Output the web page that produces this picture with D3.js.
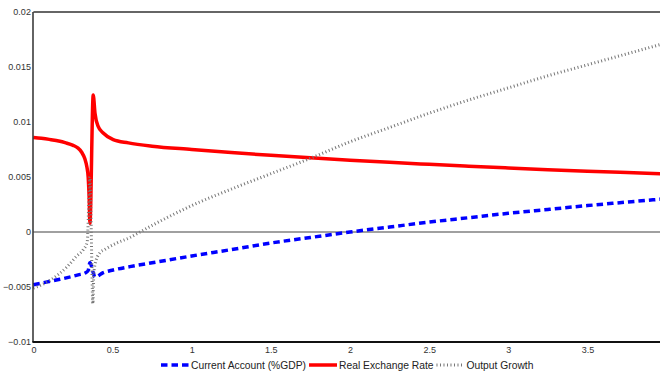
<!DOCTYPE html>
<html>
<head>
<meta charset="utf-8">
<script src="https://cdn.jsdelivr.net/npm/d3@7"></script>
<style>
  html, body { margin: 0; padding: 0; background: #fff; }
  svg { display: block; }
  text { font-family: "Liberation Sans", Arial, Helvetica, sans-serif; }
</style>
</head>
<body>
<svg id="chart" width="660" height="375"></svg>
<script>
// Current account (% of GDP)
const caX = [0, 0.1, 0.167, 0.283, 0.33, 0.346, 0.357, 0.378, 0.389, 0.441, 0.504, 0.61, 0.75, 1, 1.25, 1.5, 1.75, 2, 2.25, 2.5, 2.75, 3, 3.25, 3.5, 3.75, 4];
const caY = [-0.0048, -0.0045, -0.0043, -0.0039, -0.0037, -0.0035, -0.0028, -0.0037, -0.0041, -0.0037, -0.00345, -0.00315, -0.0028, -0.00218, -0.0016, -0.0010, -0.0005, 0.0000, 0.00045, 0.0009, 0.0013, 0.0017, 0.00205, 0.0024, 0.00272, 0.00303];

// Real exchange rate
const rerX = [0, 0.05, 0.1, 0.167, 0.2, 0.251, 0.28, 0.305, 0.325, 0.338, 0.346, 0.352, 0.357, 0.378, 0.389, 0.409, 0.441, 0.504, 0.6, 0.75, 1, 1.25, 1.5, 1.75, 2, 2.25, 2.5, 2.75, 3, 3.25, 3.5, 3.75, 4];
const rerY = [0.0086, 0.00852, 0.00842, 0.00825, 0.00812, 0.00788, 0.00765, 0.00725, 0.00665, 0.0059, 0.0050, 0.0032, 0.0008, 0.01245, 0.0108, 0.0096, 0.0090, 0.0084, 0.0081, 0.0078, 0.0075, 0.00722, 0.00697, 0.00674, 0.00653, 0.00633, 0.00615, 0.00598, 0.00582, 0.00567, 0.00553, 0.0054, 0.00528];

// Output growth
const ogX = [0, 0.02, 0.104, 0.21, 0.273, 0.315, 0.34, 0.357, 0.376, 0.381, 0.39, 0.42, 0.45, 0.526, 0.61, 0.673, 0.75, 1, 1.25, 1.5, 1.75, 2, 2.25, 2.5, 2.75, 3, 3.25, 3.5, 3.75, 4];
const ogY = [-0.0051, -0.0050, -0.0044, -0.0032, -0.0022, -0.0016, -0.0009, 0.0050, -0.0065, -0.0040, -0.0029, -0.0019, -0.0016, -0.0010, -0.0005, 0.0000, 0.0006, 0.0024, 0.0039, 0.0053, 0.0067, 0.0082, 0.0095, 0.0108, 0.0120, 0.0131, 0.0142, 0.0152, 0.0162, 0.0172];

const seriesNames = ["Current Account (%GDP)", "Real Exchange Rate", "Output Growth"];
const xTicks = [0, 0.5, 1, 1.5, 2, 2.5, 3, 3.5];
const yTicks = [-0.01, -0.005, 0, 0.005, 0.01, 0.015, 0.02];
const yTickLabels = ["\u22120.01", "\u22120.005", "0", "0.005", "0.01", "0.015", "0.02"];

const W = 660, H = 375;
const plotLeft = 33.4, plotTop = 12, plotBottom = 342, unit = 158.3;

const svg = d3.select("#chart");

const x = d3.scaleLinear().domain([0, 4]).range([plotLeft, plotLeft + 4 * unit]);
const y = d3.scaleLinear().domain([-0.01, 0.02]).range([plotBottom, plotTop]);

// zero reference line
svg.append("line")
  .attr("x1", plotLeft).attr("x2", W)
  .attr("y1", y(0)).attr("y2", y(0))
  .attr("stroke", "#808080").attr("stroke-width", 1.5);

const styles = [
  { color: "#0000ff", width: 3.5, dash: "6.5,4" },
  { color: "#ff0000", width: 3.5, dash: null },
  { color: "#777777", width: 3, dash: "1,2.5" }
];

const series = [
  d3.zip(caX, caY),
  d3.zip(rerX, rerY),
  d3.zip(ogX, ogY)
];

const line = d3.line()
  .x(d => x(d[0]))
  .y(d => y(d[1]))
  .curve(d3.curveMonotoneX);

const plot = svg.append("g");
series.forEach((s, i) => {
  plot.append("path")
    .datum(s)
    .attr("fill", "none")
    .attr("stroke", styles[i].color)
    .attr("stroke-width", styles[i].width)
    .attr("stroke-dasharray", styles[i].dash)
    .attr("stroke-linejoin", "round")
    .attr("d", line);
});

// frame: top, left, bottom spines
svg.append("line").attr("x1", plotLeft).attr("x2", W).attr("y1", plotTop).attr("y2", plotTop)
  .attr("stroke", "#333").attr("stroke-width", 1.3);
svg.append("line").attr("x1", plotLeft - 0.4).attr("x2", plotLeft - 0.4).attr("y1", plotTop).attr("y2", plotBottom)
  .attr("stroke", "#222").attr("stroke-width", 1.4);
svg.append("line").attr("x1", plotLeft - 1).attr("x2", W).attr("y1", plotBottom).attr("y2", plotBottom)
  .attr("stroke", "#111").attr("stroke-width", 1.8);

// axes (labels only)
const xAxis = d3.axisBottom(x).tickValues(xTicks).tickSize(0).tickPadding(0)
  .tickFormat(d3.format("~g"));
const gx = svg.append("g").attr("transform", `translate(0,${plotBottom})`).call(xAxis);
gx.select(".domain").remove();
gx.selectAll("text").attr("y", 10.5).attr("dy", null)
  .attr("font-size", 9).attr("font-family", null).attr("fill", "#333");

const yAxis = d3.axisLeft(y).tickValues(yTicks).tickSize(0).tickPadding(2.5)
  .tickFormat((d, i) => yTickLabels[i]);
const gy = svg.append("g").attr("transform", `translate(${plotLeft},0)`).call(yAxis);
gy.select(".domain").remove();
gy.selectAll("text").attr("font-size", 9).attr("font-family", null).attr("fill", "#333");

// legend
const legend = svg.append("g").attr("transform", "translate(0,365)");
let cx = 161;
seriesNames.forEach((name, i) => {
  legend.append("line")
    .attr("x1", cx).attr("x2", cx + 28)
    .attr("y1", 0).attr("y2", 0)
    .attr("stroke", styles[i].color)
    .attr("stroke-width", styles[i].width)
    .attr("stroke-dasharray", styles[i].dash);
  cx += 30;
  const t = legend.append("text")
    .attr("x", cx).attr("y", 0).attr("dy", "0.35em")
    .attr("font-size", 10.3).attr("fill", "#222")
    .text(name);
  cx += t.node().getComputedTextLength() + 3;
});
</script>
</body>
</html>
